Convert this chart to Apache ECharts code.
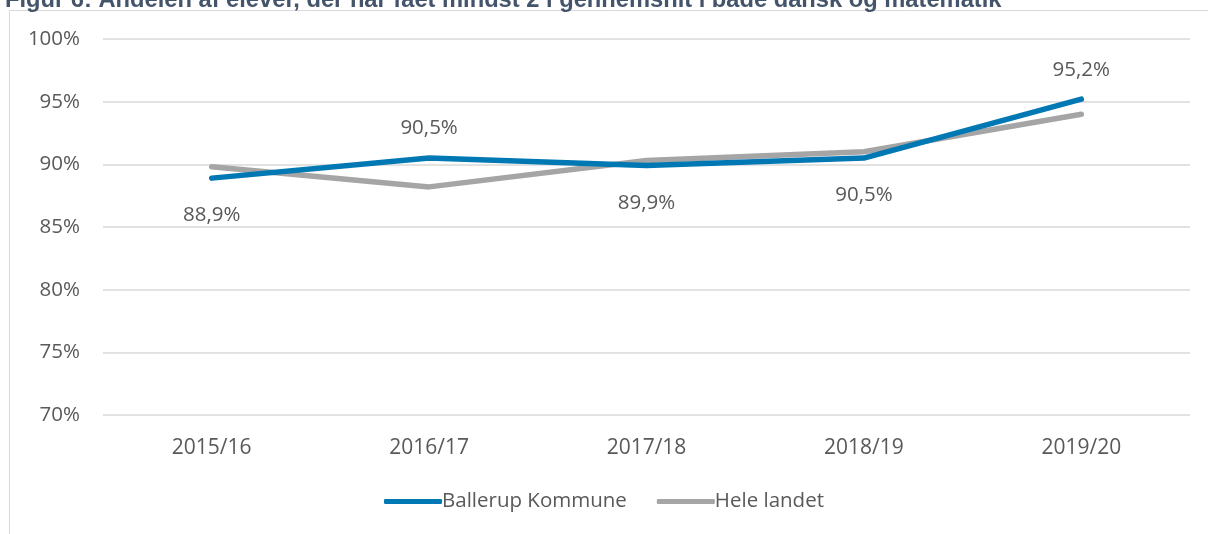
<!DOCTYPE html>
<html>
<head>
<meta charset="utf-8">
<script src="https://cdn.jsdelivr.net/npm/echarts@6/dist/echarts.min.js"></script>
<style>
  html, body { margin: 0; padding: 0; background: #fff; }
  #chart { width: 1208px; height: 534px; }
</style>
</head>
<body>
<div id="chart"></div>
<script>
// data
const years = ['2015/16', '2016/17', '2017/18', '2018/19', '2019/20'];
const ballerup = [88.9, 90.5, 89.9, 90.5, 95.2];
const heleLandet = [89.8, 88.2, 90.3, 91.0, 94.0];
// where each Ballerup label sits relative to its point
const labelPos = ['bottom', 'top', 'bottom', 'bottom', 'top'];

const FONT = '"Open Sans", sans-serif';
const TXT = '#595959';

const chart = echarts.init(document.getElementById('chart'));

const option = {
  animation: false,
  title: {
    text: 'Figur 6: Andelen af elever, der har fået mindst 2 i gennemsnit i både dansk og matematik',
    left: 0,
    top: -17,
    textStyle: { fontFamily: 'Arial, "Liberation Sans", sans-serif', fontSize: 23.7, fontWeight: 'bold', color: '#44546A' }
  },
  graphic: [{
    type: 'rect',
    shape: { x: 9.5, y: 10.5, width: 1220, height: 540 },
    style: { fill: 'none', stroke: '#d9d9d9', lineWidth: 1 },
    z: -1
  }],
  legend: {
    bottom: 17,
    left: 'center',
    itemWidth: 58,
    itemHeight: 5,
    itemGap: 30,
    icon: 'roundRect',
    textStyle: { fontFamily: FONT, fontSize: 20.5, color: TXT, padding: [0, 0, 0, -5] },
    data: ['Ballerup Kommune', 'Hele landet']
  },
  grid: { left: 103, right: 18, top: 39, bottom: 119 },
  xAxis: {
    type: 'category',
    data: years,
    boundaryGap: true,
    axisLine: { show: false },
    axisTick: { show: false },
    axisLabel: { fontFamily: FONT, fontSize: 21, color: TXT, margin: 23 }
  },
  yAxis: {
    type: 'value',
    min: 70,
    max: 100,
    interval: 5,
    axisLine: { show: false },
    axisTick: { show: false },
    splitLine: { lineStyle: { color: '#d9d9d9', width: 1.5 } },
    axisLabel: { fontFamily: FONT, fontSize: 20.5, color: TXT, margin: 23, formatter: '{value}%' }
  },
  series: [
    {
      name: 'Hele landet',
      type: 'line',
      data: heleLandet,
      symbol: 'none',
      lineStyle: { color: '#A5A5A5', width: 5.5, cap: 'round' },
      itemStyle: { color: '#A5A5A5' },
      z: 2
    },
    {
      name: 'Ballerup Kommune',
      type: 'line',
      data: ballerup.map((v, i) => ({
        value: v,
        label: { position: labelPos[i], distance: labelPos[i] === 'top' ? 18 : 26 }
      })),
      symbol: 'circle',
      symbolSize: 2,
      showSymbol: true,
      lineStyle: { color: '#0078B4', width: 5.5, cap: 'round' },
      itemStyle: { color: '#0078B4' },
      label: {
        show: true,
        fontFamily: FONT,
        fontSize: 20.5,
        color: TXT,
        formatter: p => p.value.toFixed(1).replace('.', ',') + '%'
      },
      z: 3
    }
  ]
};

chart.setOption(option);
</script>
</body>
</html>
